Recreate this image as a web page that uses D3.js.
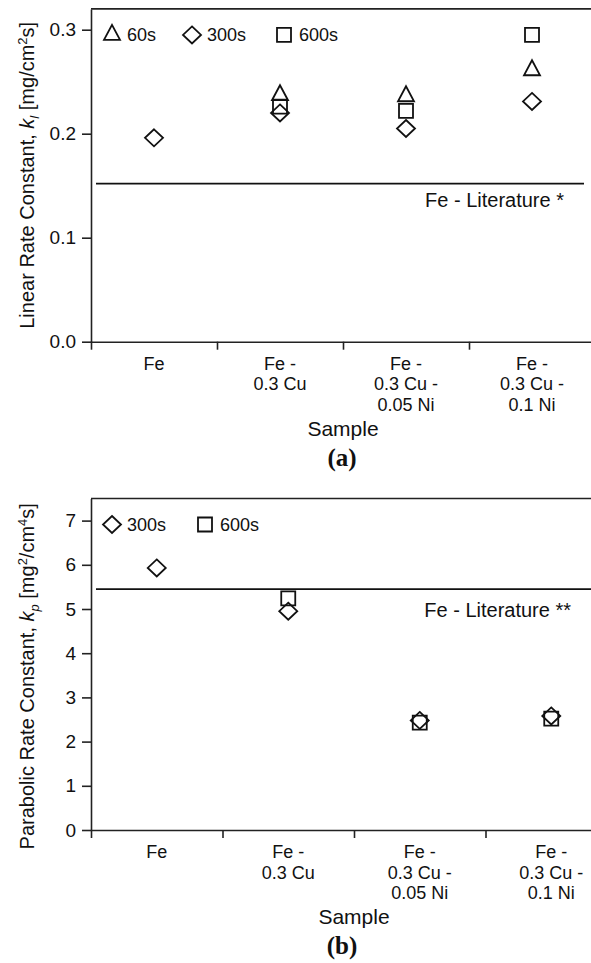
<!DOCTYPE html>
<html>
<head>
<meta charset="utf-8">
<script src="https://cdn.jsdelivr.net/npm/d3@7"></script>
<style>
body { margin: 0; background: white; }
svg { display: block; }
text { font-family: "Liberation Sans", Arial, sans-serif; fill: #111; }
</style>
</head>
<body>
<svg></svg>
<script>
// sample names, "|" marks a line break in the axis label
var samples = ["Fe", "Fe -|0.3 Cu", "Fe -|0.3 Cu -|0.05 Ni", "Fe -|0.3 Cu -|0.1 Ni"]

// (a) linear rate constant [mg/cm2s]
var linear60s  = [null, 0.237, 0.236, 0.261]
var linear300s = [0.196, 0.220, 0.205, 0.231]
var linear600s = [null, 0.226, 0.222, 0.295]
var linearLiterature = 0.152
var linearTicks = [0.0, 0.1, 0.2, 0.3]

// (b) parabolic rate constant [mg2/cm4s]
var parabolic300s = [5.93, 4.95, 2.48, 2.58]
var parabolic600s = [null, 5.24, 2.43, 2.52]
var parabolicLiterature = 5.45
var parabolicTicks = [0, 1, 2, 3, 4, 5, 6, 7]

var svg = d3.select("svg")
            .attr("width", 591)
            .attr("height", 963)

var shapes = {
    triangle: "M0,-10L8,5L-8,5Z",
    diamond: "M0,-8.5L9,0L0,8.5L-9,0Z",
    square: "M-7,-7H7V7H-7Z"
}

function drawPanel(p) {
    var g = svg.append("g")

    var x = d3.scaleBand()
              .domain(samples)
              .range([p.left, p.right])
    var xEdge = d3.scaleLinear()
                  .domain([0, samples.length])
                  .range([p.left, p.right])
    var y = d3.scaleLinear()
              .domain(p.yDomain)
              .range([p.bottom, p.top])

    // frame top
    g.append("line")
     .attr("x1", p.left).attr("x2", p.right)
     .attr("y1", y(p.yDomain[1])).attr("y2", y(p.yDomain[1]))
     .attr("stroke", "#222").attr("stroke-width", 1.6)

    var yAxis = g.append("g")
                 .attr("transform", "translate(" + p.left + ",0)")
                 .call(d3.axisLeft(y).tickValues(p.ticks).tickFormat(p.format)
                         .tickSize(9).tickSizeOuter(0).tickPadding(6))
    yAxis.selectAll("text").style("font-size", "19px").style("font-family", null)

    var xAxis = g.append("g")
                 .attr("transform", "translate(0," + p.bottom + ")")
                 .call(d3.axisBottom(xEdge).tickValues([0, 1, 2, 3]).tickFormat("")
                         .tickSize(8).tickSizeOuter(0))

    g.selectAll(".domain, .tick line").attr("stroke", "#222").attr("stroke-width", 1.6)

    // category labels under each band
    samples.forEach(function(s) {
        var t = g.append("text")
                 .attr("text-anchor", "middle")
                 .style("font-size", "18px")
        s.split("|").forEach(function(line, i) {
            t.append("tspan")
             .attr("x", x(s) + x.bandwidth() / 2)
             .attr("y", p.bottom + 28 + i * 20.5)
             .text(line)
        })
    })

    g.append("text")
     .attr("x", xEdge(2)).attr("y", p.bottom + 94)
     .attr("text-anchor", "middle")
     .style("font-size", "21px")
     .text("Sample")

    g.append("text")
     .attr("x", 342).attr("y", p.bottom + 124)
     .attr("text-anchor", "middle")
     .style("font-family", "'Liberation Serif', 'Times New Roman', serif")
     .style("font-weight", "bold")
     .style("font-size", "25px")
     .text(p.caption)

    // y title with italic k and sub/superscripts
    var title = g.append("text")
                 .attr("transform", "translate(34," + ((p.top + p.bottom) / 2 + p.titleShift) + ") rotate(-90)")
                 .attr("text-anchor", "middle")
                 .style("font-size", "20px")
    p.title.forEach(function(part) {
        var ts = title.append("tspan").text(part[0])
        if (part[1] == "i") ts.style("font-style", "italic")
        if (part[1] == "sub") ts.style("font-style", "italic").style("font-size", "13px").attr("dy", 5)
        if (part[1] == "sup") ts.style("font-size", "13px").attr("dy", -7)
        if (part[2]) ts.attr("dy", part[2])
    })

    // literature line
    g.append("line")
     .attr("x1", p.left + 5).attr("x2", p.litEnd)
     .attr("y1", y(p.literature)).attr("y2", y(p.literature))
     .attr("stroke", "#111").attr("stroke-width", 1.8)
    g.append("text")
     .attr("x", p.litLabelX).attr("y", y(p.literature) + p.litLabelDy)
     .attr("text-anchor", "end")
     .style("font-size", "20px")
     .text(p.litLabel)

    // points
    p.series.forEach(function(se) {
        g.append("g")
         .selectAll("path")
         .data(se.values.map(function(v, i) { return {s: samples[i], v: v} })
                        .filter(function(d) { return d.v != null }))
         .enter()
         .append("path")
         .attr("d", shapes[se.shape])
         .attr("transform", function(d) { return "translate(" + (x(d.s) + x.bandwidth() / 2) + "," + y(d.v) + ")" })
         .attr("fill", "none")
         .attr("stroke", "#111")
         .attr("stroke-width", 1.8)
    })

    // legend
    p.series.forEach(function(se) {
        var ly = y(p.yDomain[1]) + 26
        g.append("path")
         .attr("d", shapes[se.shape])
         .attr("transform", "translate(" + se.lx + "," + ly + ")")
         .attr("fill", "none")
         .attr("stroke", "#111")
         .attr("stroke-width", 1.8)
        g.append("text")
         .attr("x", se.lx + 15).attr("y", ly + 6.5)
         .style("font-size", "18px")
         .text(se.label)
    })
}

drawPanel({
    left: 91, right: 595, top: 8.9, bottom: 341.7,
    yDomain: [0, 0.32], ticks: linearTicks, format: d3.format(".1f"),
    literature: linearLiterature, litEnd: 584, litLabel: "Fe - Literature *", litLabelX: 564, litLabelDy: 23,
    series: [
        {values: linear60s, shape: "triangle", label: "60s", lx: 112},
        {values: linear300s, shape: "diamond", label: "300s", lx: 192},
        {values: linear600s, shape: "square", label: "600s", lx: 284}
    ],
    title: [["Linear Rate Constant, "], ["k", "i"], ["l", "sub"], [" [mg/cm", "", -5], ["2", "sup"], ["s]", "", 7]],
    titleShift: 0,
    caption: "(a)"
})

drawPanel({
    left: 91, right: 617, top: 498.5, bottom: 830,
    yDomain: [0, 7.5], ticks: parabolicTicks, format: d3.format("d"),
    literature: parabolicLiterature, litEnd: 610, litLabel: "Fe - Literature **", litLabelX: 571, litLabelDy: 28,
    series: [
        {values: parabolic300s, shape: "diamond", label: "300s", lx: 112},
        {values: parabolic600s, shape: "square", label: "600s", lx: 205}
    ],
    title: [["Parabolic Rate Constant, "], ["k", "i"], ["p", "sub"], [" [mg", "", -5], ["2", "sup"], ["/cm", "", 7], ["4", "sup"], ["s]", "", 7]],
    titleShift: 12,
    caption: "(b)"
})
</script>
</body>
</html>
